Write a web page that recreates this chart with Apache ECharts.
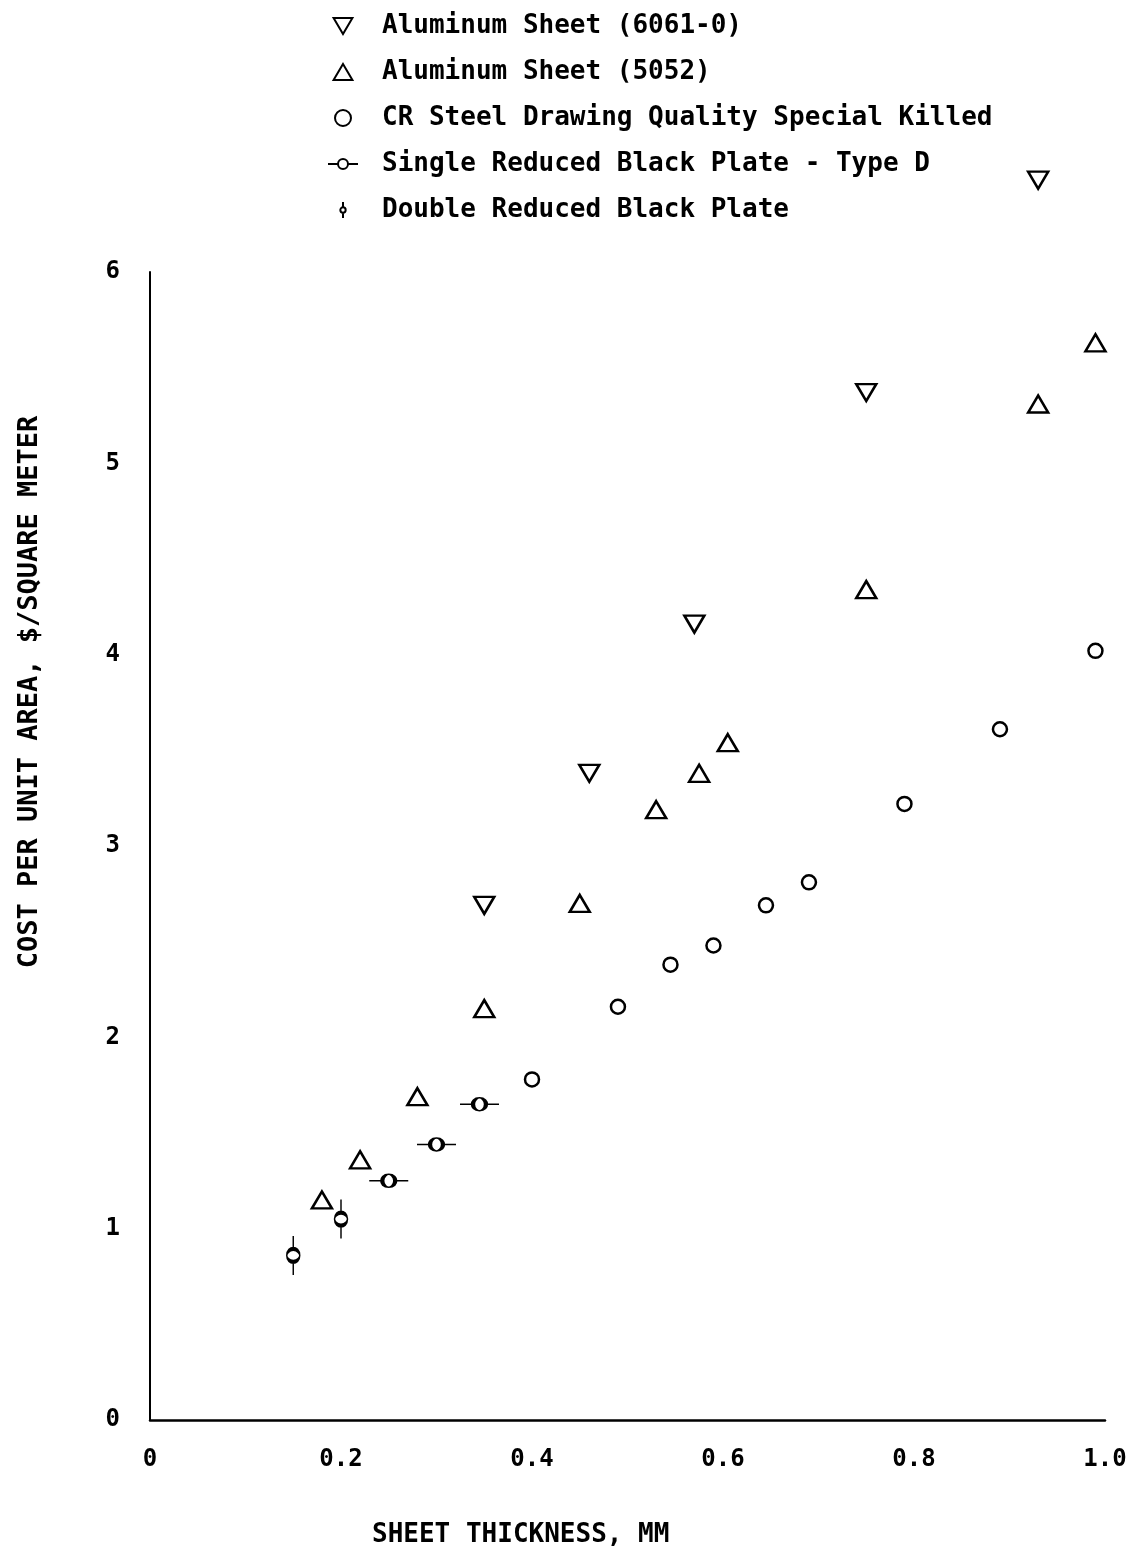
<!DOCTYPE html>
<html><head><meta charset="utf-8">
<script src="https://cdn.jsdelivr.net/npm/echarts@6/dist/echarts.min.js"></script>
<style>html,body{margin:0;padding:0;background:#fff}#c{width:1141px;height:1555px}</style>
</head><body><div id="c"></div>
<script>
const xTicks = ['0', '0.2', '0.4', '0.6', '0.8', '1.0'];
const xTitle = 'SHEET THICKNESS, MM';
const yTitle = 'COST PER UNIT AREA, $/SQUARE METER';
const seriesNames = [
  'Aluminum Sheet (6061-0)',
  'Aluminum Sheet (5052)',
  'CR Steel Drawing Quality Special Killed',
  'Single Reduced Black Plate - Type D',
  'Double Reduced Black Plate'
];
const al6061 = [[0.35, 2.69], [0.46, 3.38], [0.57, 4.16], [0.75, 5.37], [0.93, 6.48]];
const al5052 = [[0.18, 1.15], [0.22, 1.36], [0.28, 1.69], [0.35, 2.15], [0.45, 2.70], [0.53, 3.19], [0.575, 3.38], [0.605, 3.54], [0.75, 4.34], [0.93, 5.31], [0.99, 5.63]];
const crSteel = [[0.40, 1.78], [0.49, 2.16], [0.545, 2.38], [0.59, 2.48], [0.645, 2.69], [0.69, 2.81], [0.79, 3.22], [0.89, 3.61], [0.99, 4.02]];
const singleReduced = [[0.25, 1.25], [0.30, 1.44], [0.345, 1.65]];
const doubleReduced = [[0.20, 1.05], [0.15, 0.86]];

const FONT = 'DejaVu Sans Mono';
const SYM = {
  down: 'path://M0,0 L20,0 L10,17 Z',
  up: 'path://M10,0 L20,17 L0,17 Z',
  circ: 'circle',
  single: 'path://M0,4 L8,4 M16,4 L24,4 M16,4 C16,6.209 14.209,8 12,8 C9.791,8 8,6.209 8,4 C8,1.791 9.791,0 12,0 C14.209,0 16,1.791 16,4 Z',
  dbl: 'path://M4,0 L4,8 M4,16 L4,24 M8,12 C8,14.209 6.209,16 4,16 C1.791,16 0,14.209 0,12 C0,9.791 1.791,8 4,8 C6.209,8 8,9.791 8,12 Z'
};
const mk = (name, data, symbol, size) => ({
  name, type: 'scatter', data, symbol, symbolSize: size, symbolKeepAspect: false, clip: false,
  itemStyle: { color: '#fff', borderColor: '#000', borderWidth: 2.5, opacity: 1 },
  emphasis: { disabled: true }
});
const chart = echarts.init(document.getElementById('c'), null, { renderer: 'canvas' });
chart.setOption({
  animation: false,
  backgroundColor: '#fff',
  textStyle: { fontFamily: FONT },
  legend: {
    orient: 'vertical', left: 322, top: 8, itemGap: 20,
    itemWidth: 30, itemHeight: 16, symbolKeepAspect: true,
    textStyle: { fontFamily: FONT, fontWeight: 'bold', fontSize: 26, color: '#000', padding: [0, 0, 0, 19] },
    data: seriesNames.map(n => ({ name: n })),
    selectedMode: false
  },
  grid: { left: 150, right: 36, top: 272, bottom: 135 },
  xAxis: {
    type: 'value', min: 0, max: 1, interval: 0.2,
    axisLine: { show: true, lineStyle: { color: '#000', width: 2.5 } },
    axisTick: { show: false }, splitLine: { show: false },
    axisLabel: { color: '#000', fontFamily: FONT, fontWeight: 'bold', fontSize: 24, margin: 28,
      formatter: v => xTicks[Math.round(v * 5)] }
  },
  yAxis: {
    type: 'value', min: 0, max: 6, interval: 1,
    axisLine: { show: true, lineStyle: { color: '#000', width: 2 } },
    axisTick: { show: false }, splitLine: { show: false },
    axisLabel: { color: '#000', fontFamily: FONT, fontWeight: 'bold', fontSize: 24, margin: 30 }
  },
  graphic: [
    { type: 'text', left: 372, top: 1522,
      style: { text: xTitle, font: 'bold 26px "DejaVu Sans Mono"', fill: '#000' } },
    { type: 'text', x: 30, y: 692, rotation: Math.PI / 2,
      style: { text: yTitle, font: 'bold 27px "DejaVu Sans Mono"', fill: '#000', align: 'center', verticalAlign: 'middle' } }
  ],
  series: [
    mk(seriesNames[0], al6061, SYM.down, [20, 17]),
    mk(seriesNames[1], al5052, SYM.up, [20, 17]),
    mk(seriesNames[2], crSteel, SYM.circ, 14),
    mk(seriesNames[3], singleReduced, SYM.single, [39, 13]),
    mk(seriesNames[4], doubleReduced, SYM.dbl, [13, 39])
  ]
});
</script></body></html>
